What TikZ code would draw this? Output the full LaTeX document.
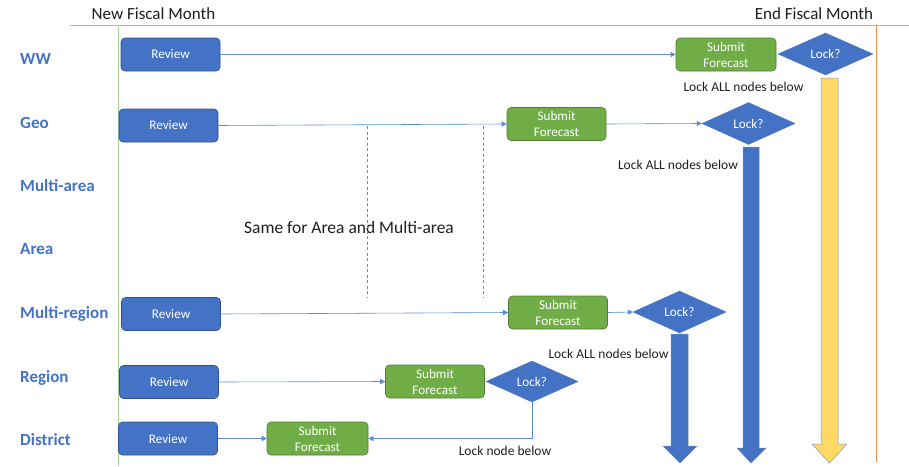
\documentclass[tikz,border=0pt]{standalone}
\usepackage{fontspec}
\setmainfont{Carlito}
\usetikzlibrary{shapes.geometric,arrows.meta}
\definecolor{obox}{HTML}{4472C4}
\definecolor{oboxline}{HTML}{2F528F}
\definecolor{ogreen}{HTML}{70AD47}
\definecolor{ogreenline}{HTML}{507E32}
\definecolor{oconn}{HTML}{5B8BD6}
\definecolor{otop}{HTML}{9DB5E0}
\definecolor{olgreen}{HTML}{A9D18E}
\definecolor{oorange}{HTML}{F08C4A}
\definecolor{oyellow}{HTML}{FFD966}
\definecolor{otext}{HTML}{1E1E1E}
\begin{document}
\begin{tikzpicture}[x=1pt,y=-1pt,
  reviewbox/.style={rectangle,rounded corners=4pt,fill=obox,draw=oboxline,line width=0.6pt,
    minimum width=99pt,minimum height=33pt,inner sep=0pt,text=white,
    font=\fontsize{13.2}{16}\selectfont},
  submitbox/.style={rectangle,rounded corners=4pt,fill=ogreen,draw=ogreenline,line width=0.6pt,
    minimum width=99pt,minimum height=33pt,inner sep=0pt,text=white,align=center,
    font=\fontsize{13.2}{16}\selectfont},
  lockbox/.style={diamond,fill=obox,draw=obox,line width=0.4pt,minimum width=93pt,
    minimum height=42pt,inner sep=0pt,text=white,font=\fontsize{13.2}{16}\selectfont},
  rowlabel/.style={anchor=west,text=obox,font=\fontsize{17}{20}\selectfont\bfseries,
    inner sep=0pt,text height=12pt,text depth=3pt},
  headlabel/.style={text=otext,font=\fontsize{17}{20}\selectfont,inner sep=0pt},
  notelabel/.style={text=otext,font=\fontsize{13.5}{16}\selectfont,inner sep=0pt},
  conn/.style={draw=oconn,line width=0.6pt,-{Triangle[width=5pt,length=5pt]}},
  bigarrow/.style={fill=obox,draw=oboxline!70,line width=0.5pt},
]
\useasboundingbox (0,0) rectangle (909,466);

% frame lines
\coordinate (tl) at (70,25);
\coordinate (tr) at (909,25);
\coordinate (gtop) at (118,25);
\coordinate (gbot) at (118,466);
\coordinate (otop) at (876,25);
\coordinate (obot) at (876,462);
\draw[otop,line width=0.8pt] (tl) -- (tr);
\draw[olgreen,line width=0.8pt] (gtop) -- (gbot);
\draw[oorange,line width=1pt] (otop) -- (obot);

% headings
\node[headlabel] (newm) at (153.5,14) {New Fiscal Month};
\node[headlabel] (endm) at (814,14) {End Fiscal Month};

% row labels
\node[rowlabel] (lww) at (20,59.5) {WW};
\node[rowlabel] (lgeo) at (20,123.5) {Geo};
\node[rowlabel] (lma) at (20,186.5) {Multi-area};
\node[rowlabel] (la) at (20,249.5) {Area};
\node[rowlabel] (lmr) at (20,313.5) {Multi-region};
\node[rowlabel] (lr) at (20,377.5) {Region};
\node[rowlabel] (ld) at (20,440.5) {District};

% review boxes
\node[reviewbox] (rWW) at (170.5,54.5) {Review};
\node[reviewbox] (rGeo) at (168.5,125.5) {Review};
\node[reviewbox] (rMR) at (171,314) {Review};
\node[reviewbox] (rR) at (169,382) {Review};
\node[reviewbox] (rD) at (168,438.5) {Review};

% submit boxes
\node[submitbox,minimum width=100pt] (sWW) at (726,54.5) {Submit\\Forecast};
\node[submitbox] (sGeo) at (556.5,124) {Submit\\Forecast};
\node[submitbox] (sMR) at (558,312.5) {Submit\\Forecast};
\node[submitbox] (sR) at (435,381.5) {Submit\\Forecast};
\node[submitbox,minimum width=101pt] (sD) at (317.5,438.5) {Submit\\Forecast};

% lock diamonds
\node[lockbox,minimum width=95pt] (kWW) at (825.5,54) {Lock?};
\node[lockbox] (kGeo) at (748.5,123.5) {Lock?};
\node[lockbox] (kMR) at (679.5,312) {Lock?};
\node[lockbox,minimum width=92pt,minimum height=41pt] (kR) at (532,381.5) {Lock?};

% big arrows
\draw[fill=oyellow,draw=oboxline!60,line width=0.5pt]
  (821,78) -- (838,78) -- (838,444) -- (847,444) -- (829.5,463) -- (812,444) -- (821,444) -- cycle;
\draw[bigarrow]
  (743,147) -- (759,147) -- (759,448) -- (766,448) -- (751,463) -- (737,448) -- (743,448) -- cycle;
\draw[bigarrow]
  (671,334) -- (688,334) -- (688,446) -- (697,446) -- (680,463) -- (663,446) -- (671,446) -- cycle;

% notes
\node[notelabel] (nWW) at (743.5,87) {Lock ALL nodes below};
\node[notelabel] (nGeo) at (678,165) {Lock ALL nodes below};
\node[notelabel] (nMR) at (608.5,354) {Lock ALL nodes below};
\node[notelabel] (nR) at (505,451) {Lock node below};
\node[headlabel,font=\fontsize{17.5}{20}\selectfont] (same) at (349,227) {Same for Area and Multi-area};

% dashed lines
\coordinate (d1t) at (367,126);
\coordinate (d1b) at (367,298);
\coordinate (d2t) at (483,126);
\coordinate (d2b) at (483,298);
\draw[oconn,line width=0.7pt,dash pattern=on 3pt off 2.5pt] (d1t) -- (d1b);
\draw[oconn,line width=0.7pt,dash pattern=on 3pt off 2.5pt] (d2t) -- (d2b);

% connectors
\draw[conn] (rWW.east) -- (sWW.west);
\draw[conn] (rGeo.east) -- (sGeo.west);
\draw[conn] (sGeo.east) -- (kGeo.west);
\draw[conn] (rMR.east) -- (sMR.west);
\draw[conn] (sMR.east) -- (kMR.west);
\draw[conn] (rR.east) -- (sR.west);
\draw[conn] (rD.east) -- (sD.west);
\draw[conn] (kR.south) |- (sD.east);
\end{tikzpicture}
\end{document}
